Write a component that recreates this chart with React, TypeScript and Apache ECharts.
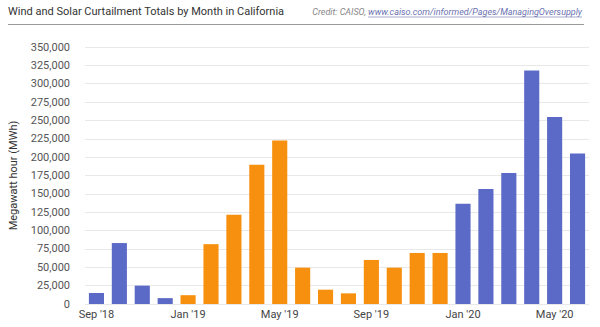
import React, { useEffect, useRef } from "react";
import * as echarts from "echarts";

const months = [
  "Sep '18", "Oct '18", "Nov '18", "Dec '18",
  "Jan '19", "Feb '19", "Mar '19", "Apr '19", "May '19", "Jun '19", "Jul '19", "Aug '19",
  "Sep '19", "Oct '19", "Nov '19", "Dec '19",
  "Jan '20", "Feb '20", "Mar '20", "Apr '20", "May '20", "Jun '20",
];
const curtailment = [
  15000, 83000, 25000, 8000,
  12000, 81500, 121500, 189500, 222500, 49500, 19500, 14500,
  60000, 49500, 69500, 69500,
  136500, 156500, 178500, 318000, 254500, 205000,
];
const orangeMonths = [
  "Jan '19", "Feb '19", "Mar '19", "Apr '19", "May '19", "Jun '19", "Jul '19", "Aug '19",
  "Sep '19", "Oct '19", "Nov '19", "Dec '19",
];
const titleText = "Wind and Solar Curtailment Totals by Month in California";
const creditPrefix = "Credit: CAISO, ";
const creditLink = "www.caiso.com/informed/Pages/ManagingOversupply";
const yAxisName = "Megawatt hour (MWh)";

const BLUE = "#5b6ac6";
const ORANGE = "#f7900f";

export default function App() {
  const ref = useRef<HTMLDivElement>(null);
  useEffect(() => {
    document.body.style.margin = "0";
    if (!ref.current) return;
    const chart = echarts.init(ref.current, undefined, { renderer: "svg" });
    const creditFont = "italic 9px Roboto";
    const cv = document.createElement("canvas");
    const ctx = cv.getContext("2d")!;
    ctx.font = creditFont;
    const linkW = ctx.measureText(creditLink).width;
    const rightX = 582;
    const linkX = rightX - linkW;
    chart.setOption({
      animation: false,
      backgroundColor: "#ffffff",
      grid: { left: 83, right: 11, top: 47, bottom: 23 },
      xAxis: {
        type: "category",
        data: months,
        axisLine: { show: false },
        axisTick: { show: false },
        axisLabel: {
          interval: 3,
          color: "#444",
          fontFamily: "Roboto",
          fontSize: 11,
          margin: 5,
        },
      },
      yAxis: {
        type: "value",
        min: 0,
        max: 350000,
        interval: 25000,
        name: yAxisName,
        nameLocation: "middle",
        nameGap: 66,
        nameTextStyle: { color: "#333", fontFamily: "Roboto", fontSize: 11 },
        axisLine: { show: false },
        axisTick: { show: false },
        axisLabel: {
          color: "#555",
          fontFamily: "Roboto",
          fontSize: 11,
          margin: 15,
          formatter: (v: number) => v.toLocaleString("en-US"),
        },
        splitLine: { lineStyle: { color: "#e8e8e8", width: 1 } },
      },
      series: [
        {
          type: "bar",
          barWidth: "66%",
          data: months.map((m, i) => ({
            value: curtailment[i],
            itemStyle: { color: orangeMonths.includes(m) ? ORANGE : BLUE },
          })),
        },
      ],
      graphic: [
        {
          type: "text",
          x: 8,
          y: 11,
          style: { text: titleText, font: "11px Roboto", fill: "#333", verticalAlign: "middle" },
        },
        {
          type: "text",
          x: linkX,
          y: 12,
          style: {
            text: creditPrefix,
            font: creditFont,
            fill: "#888",
            align: "right",
            verticalAlign: "middle",
          },
        },
        {
          type: "text",
          x: linkX,
          y: 12,
          style: {
            text: creditLink,
            font: creditFont,
            fill: "#6b72b0",
            align: "left",
            verticalAlign: "middle",
          },
        },
        {
          type: "line",
          shape: { x1: linkX, y1: 17, x2: rightX, y2: 17 },
          style: { stroke: "#6b72b0", lineWidth: 0.6 },
        },
        {
          type: "line",
          shape: { x1: 8, y1: 24.5, x2: 584, y2: 24.5 },
          style: { stroke: "#9a9a9a", lineWidth: 1 },
        },
      ],
    });
    return () => chart.dispose();
  }, []);
  return <div ref={ref} style={{ width: 600, height: 327 }} />;
}
